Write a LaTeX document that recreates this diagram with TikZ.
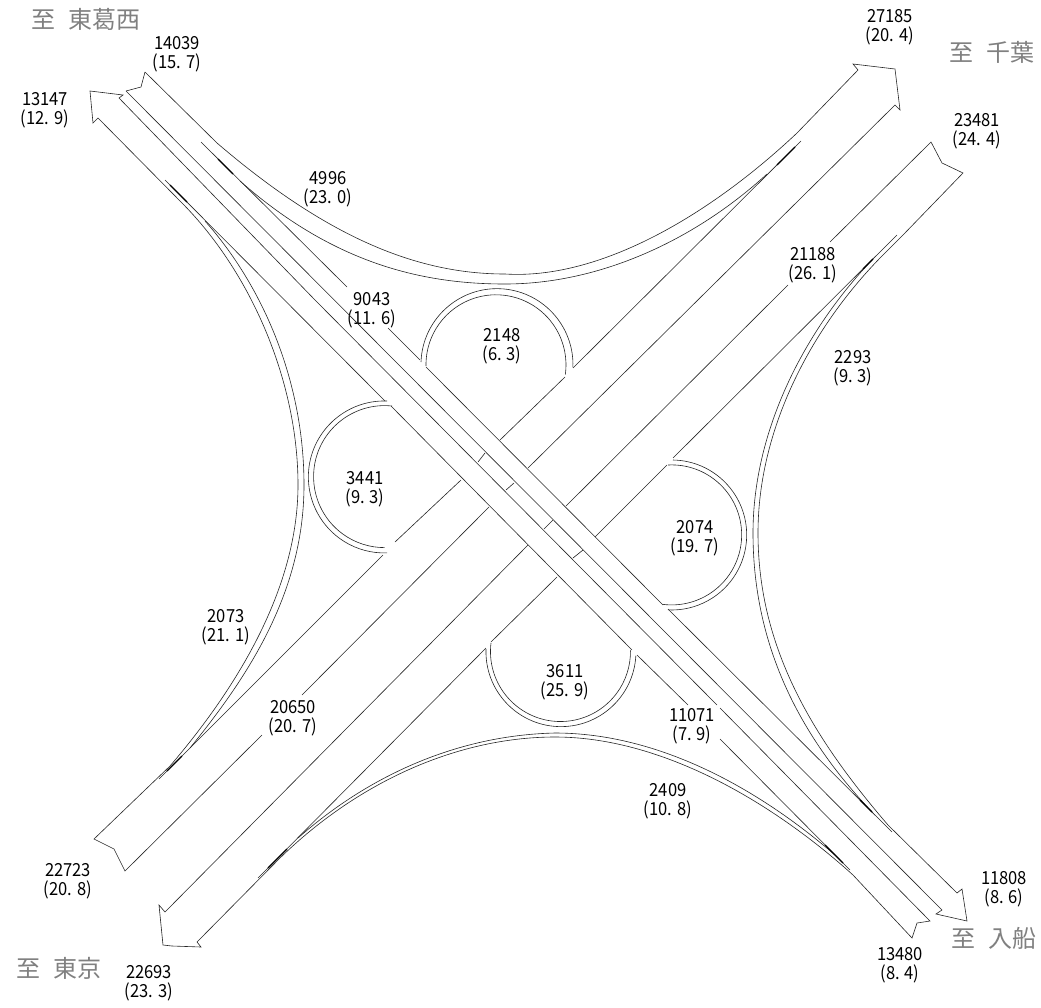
\documentclass[tikz,border=0pt]{standalone}
\usepackage{fontspec}
\setmainfont{Noto Sans CJK JP}
\newfontfamily\rdfont[FakeStretch=0.92]{Noto Sans CJK JP}
\begin{document}
\begin{tikzpicture}[x=1pt,y=-1pt]
	\tikzset{rdline/.style={line width=0.6pt, black!85}}
	\tikzset{rdthick/.style={line width=1.1pt, black}}
	\tikzset{rdlabel/.style={align=center, inner sep=0pt, yshift=-1pt, font=\rdfont\fontsize{18}{19.5}\selectfont}}
	\tikzset{rdplace/.style={inner sep=0pt, text=black!50, font=\fontsize{24}{24}\selectfont}}

	\useasboundingbox (0,0) rectangle (1041,1007);

	\node[rdplace] (p1) at (86,19) {至\hspace{13pt}東葛西};
	\node[rdplace] (p2) at (992,52) {至\hspace{13pt}千葉};
	\node[rdplace] (p3) at (59,968) {至\hspace{13pt}東京};
	\node[rdplace] (p4) at (994,938) {至\hspace{13pt}入船};

	\node[rdlabel] (l1) at (177,53) {14039\\(15. 7)};
	\node[rdlabel] (l2) at (45,109) {13147\\(12. 9)};
	\node[rdlabel] (l3) at (328,188) {4996\\(23. 0)};
	\node[rdlabel] (l4) at (890,26) {27185\\(20. 4)};
	\node[rdlabel] (l5) at (977,130) {23481\\(24. 4)};
	\node[rdlabel] (l6) at (813,264) {21188\\(26. 1)};
	\node[rdlabel] (l7) at (853,367) {2293\\(9. 3)};
	\node[rdlabel] (l8) at (372,309) {9043\\(11. 6)};
	\node[rdlabel] (l9) at (502,345) {2148\\(6. 3)};
	\node[rdlabel] (l10) at (365,488) {3441\\(9. 3)};
	\node[rdlabel] (l11) at (695,537) {2074\\(19. 7)};
	\node[rdlabel] (l12) at (565,681) {3611\\(25. 9)};
	\node[rdlabel] (l13) at (692,725) {11071\\(7. 9)};
	\node[rdlabel] (l14) at (668,800) {2409\\(10. 8)};
	\node[rdlabel] (l15) at (226,626) {2073\\(21. 1)};
	\node[rdlabel] (l16) at (293,717) {20650\\(20. 7)};
	\node[rdlabel] (l17) at (68,880) {22723\\(20. 8)};
	\node[rdlabel] (l18) at (149,982) {22693\\(23. 3)};
	\node[rdlabel] (l19) at (1004,888) {11808\\(8. 6)};
	\node[rdlabel] (l20) at (900,964) {13480\\(8. 4)};

	\draw[rdline] (126,91) -- (942,910) -- (936,914) -- (967,921) -- (962,889) -- (957,893) -- (888,825)
		.. controls (815,740) and (758,650) .. (758,533)
		.. controls (758,430) and (810,330) .. (880,258)
		-- (903,235) -- (963,173) -- (942,163) -- (931,142) -- (830,242);
	\draw[rdline] (145,72) -- (141,87) -- (126,91);
	\draw[rdline] (145,72) -- (217,143)
		.. controls (330,240) and (420,274) .. (505,274)
		.. controls (600,280) and (710,215) .. (797,133)
		-- (858,70) -- (853,64) -- (895,69) -- (900,110) -- (895,105) -- (528,468);
	\draw[rdline] (489,507) -- (302,695);
	\draw[rdline] (262,735) -- (125,871)
		-- (114,849) -- (94,839) -- (170,766)
		.. controls (235,690) and (298,590) .. (298,485)
		.. controls (298,380) and (250,272) .. (183,204)
		-- (98,118) -- (93,123) -- (90,91) -- (123,95) -- (119,98) -- (315,300) -- (717,705);

	\draw[rdline] (720,708) -- (930,921) -- (917,923) -- (912,938) -- (853,875)
		.. controls (770,800) and (660,737) .. (555,737)
		.. controls (460,737) and (360,780) .. (280,858)
		-- (197,942) -- (201,947) -- (172,946) -- (163,945) -- (159,905) -- (165,912) -- (528,545);
	\draw[rdline] (566,506) -- (788,285);

	\draw[rdline] (201,142) -- (347,287);
	\draw[rdline] (388,328) -- (420,360);
	\draw[rdline] (426,367) -- (663,605);
	\draw[rdline] (668,609) -- (892,832);

	\draw[rdline] (165,180) -- (385,401);
	\draw[rdline] (391,406) -- (632,650);
	\draw[rdline] (637,655) -- (688,705);
	\draw[rdline] (720,739) -- (850,870);

	\draw[rdline] (801,141) -- (573,368);
	\draw[rdline] (565,377) -- (500,440);
	\draw[rdline] (461,480) -- (395,542);
	\draw[rdline] (383,555) -- (159,779);

	\draw[rdline] (897,235) -- (673,458);
	\draw[rdline] (667,465) -- (595,537);
	\draw[rdline] (557,577) -- (491,642);
	\draw[rdline] (486,648) -- (258,878);

	\draw[rdline] (240,181)
		.. controls (335,265) and (425,284) .. (505,284)
		.. controls (600,284) and (695,240) .. (767,174);
	\draw[rdline] (873,259)
		.. controls (805,330) and (753,430) .. (753,533)
		.. controls (753,655) and (808,745) .. (873,813);
	\draw[rdline] (205,221)
		.. controls (262,285) and (304,380) .. (304,485)
		.. controls (304,595) and (245,680) .. (190,748);
	\draw[rdline] (298,838)
		.. controls (375,770) and (465,735) .. (555,733)
		.. controls (660,733) and (760,790) .. (835,855);

	\draw[rdthick] (218,159) -- (233,174);
	\draw[rdthick] (170,185) -- (187,202);
	\draw[rdthick] (795,147) -- (777,165);
	\draw[rdthick] (873,259) -- (863,269);
	\draw[rdthick] (872,812) -- (860,800);
	\draw[rdthick] (843,863) -- (825,845);
	\draw[rdthick] (182,756) -- (167,771);
	\draw[rdthick] (287,849) -- (268,868);

	\draw[rdline] (478,462) -- (485,453);
	\draw[rdline] (506,490) -- (514,483);
	\draw[rdline] (544,529) -- (553,520);
	\draw[rdline] (573,558) -- (583,550);

	\draw[rdline] (421,362) arc[start angle=178, end angle=-2, radius=76pt];
	\draw[rdline] (426,366) arc[start angle=181, end angle=-8, radius=70pt];
	\draw[rdline] (387,401) arc[start angle=88, end angle=272, radius=76pt];
	\draw[rdline] (392,406) arc[start angle=84, end angle=270, radius=71pt];
	\draw[rdline] (673,460) arc[start angle=89, end angle=-93, radius=75pt];
	\draw[rdline] (668,465) arc[start angle=93, end angle=-97, radius=70pt];
	\draw[rdline] (486,649) arc[start angle=178, end angle=357, radius=75pt];
	\draw[rdline] (491,643) arc[start angle=173, end angle=361, radius=70pt];
\end{tikzpicture}
\end{document}
